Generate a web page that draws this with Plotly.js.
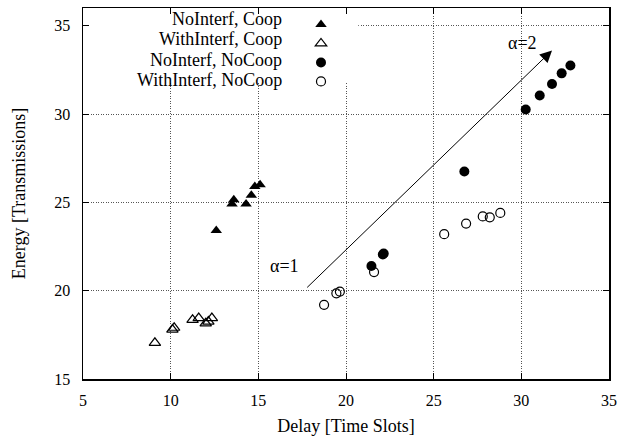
<!DOCTYPE html>
<html>
<head>
<meta charset="utf-8">
<script src="https://cdn.plot.ly/plotly-3.0.1.min.js"></script>
<style>html,body{margin:0;padding:0;background:#fff;}</style>
</head>
<body>
<div id="chart" style="width:627px;height:437px;"></div>
<script>
// Series labels
const seriesNames = ["NoInterf, Coop", "WithInterf, Coop", "NoInterf, NoCoop", "WithInterf, NoCoop"];

// NoInterf, Coop (filled triangles)
const noInterfCoopDelay  = [12.6, 13.5, 13.6, 14.3, 14.6, 14.8, 15.1];
const noInterfCoopEnergy = [23.4, 24.9, 25.15, 24.9, 25.4, 25.9, 26.0];

// WithInterf, Coop (open triangles)
const withInterfCoopDelay  = [9.1, 10.1, 10.2, 11.25, 11.6, 12.0, 12.15, 12.35];
const withInterfCoopEnergy = [17.05, 17.8, 17.9, 18.35, 18.45, 18.15, 18.25, 18.45];

// NoInterf, NoCoop (filled circles)
const noInterfNoCoopDelay  = [21.45, 22.1, 22.15, 26.75, 30.25, 31.05, 31.75, 32.3, 32.8];
const noInterfNoCoopEnergy = [21.4, 22.05, 22.1, 26.75, 30.25, 31.05, 31.7, 32.3, 32.75];

// WithInterf, NoCoop (open circles)
const withInterfNoCoopDelay  = [18.75, 19.45, 19.65, 21.6, 25.6, 26.85, 27.8, 28.2, 28.8];
const withInterfNoCoopEnergy = [19.2, 19.85, 19.95, 21.05, 23.2, 23.8, 24.2, 24.15, 24.4];

// Arrow (alpha from 1 to 2) and its labels
const arrowStart = [17.7, 20.1];
const arrowEnd = [31.75, 33.6];
const alphaLabels = ["α=1", "α=2"];
const alphaLabelX = [16.5, 30.05];
const alphaLabelY = [21.4, 34.0];

// Axis ticks
const xTicks = [5, 10, 15, 20, 25, 30, 35];
const yTicks = [15, 20, 25, 30, 35];

const serif = "'Liberation Serif', 'Times New Roman', Times, serif";

const markerSpecs = [
  {symbol: "triangle-up", size: 10, color: "#000", line: {color: "#000", width: 0}},
  {symbol: "triangle-up-open", size: 10, color: "#000", line: {color: "#000", width: 1.2}},
  {symbol: "circle", size: 10, color: "#000", line: {color: "#000", width: 0}},
  {symbol: "circle-open", size: 9, color: "#000", line: {color: "#000", width: 1.2}}
];
const xs = [noInterfCoopDelay, withInterfCoopDelay, noInterfNoCoopDelay, withInterfNoCoopDelay];
const ys = [noInterfCoopEnergy, withInterfCoopEnergy, noInterfNoCoopEnergy, withInterfNoCoopEnergy];

const traces = seriesNames.map((n, i) => ({
  type: "scatter",
  mode: "markers",
  x: xs[i],
  y: ys[i],
  name: "",
  hovertext: n,
  marker: markerSpecs[i],
  showlegend: true
}));

const legendRowY = [0.9714, 0.9162, 0.8609, 0.8057];
const annotations = seriesNames.map((n, i) => ({
  xref: "paper", yref: "paper",
  x: 0.382, y: legendRowY[i],
  xanchor: "right", yanchor: "middle",
  text: n, showarrow: false,
  font: {family: serif, size: 18, color: "#000"}
}));

annotations.push({
  xref: "x", yref: "y", axref: "x", ayref: "y",
  x: arrowEnd[0], y: arrowEnd[1],
  ax: arrowStart[0], ay: arrowStart[1],
  text: "", showarrow: true,
  arrowhead: 2, arrowsize: 2.4, arrowwidth: 1, arrowcolor: "#000"
});
alphaLabels.forEach((t, i) => annotations.push({
  xref: "x", yref: "y",
  x: alphaLabelX[i], y: alphaLabelY[i],
  text: t, showarrow: false,
  font: {family: serif, size: 18, color: "#000"}
}));

const axisCommon = {
  showline: true, linecolor: "#000", linewidth: 1.5, mirror: "ticks",
  ticks: "inside", ticklen: 6, tickwidth: 1, tickcolor: "#000",
  showgrid: true, gridcolor: "#555", griddash: "1px,1.5px", gridwidth: 1,
  zeroline: false,
  tickfont: {family: serif, size: 16, color: "#000"}
};

const layout = {
  width: 627, height: 437,
  margin: {l: 83, r: 18, t: 8, b: 58},
  paper_bgcolor: "#fff", plot_bgcolor: "#fff",
  font: {family: serif, color: "#000"},
  showlegend: true,
  legend: {
    x: (301 - 83) / 526, y: 0.9948, xanchor: "left", yanchor: "top",
    bgcolor: "rgba(0,0,0,0)", borderwidth: 0,
    font: {family: serif, size: 10},
    itemwidth: 30, tracegroupgap: 0
  },
  xaxis: Object.assign({}, axisCommon, {
    range: [5, 35], tickvals: xTicks,
    ticklabelstandoff: 6,
    title: {text: "Delay [Time Slots]", font: {family: serif, size: 18}, standoff: 11}
  }),
  yaxis: Object.assign({}, axisCommon, {
    range: [15, 36], tickvals: yTicks,
    ticklabelstandoff: 8,
    title: {text: "Energy [Transmissions]", font: {family: serif, size: 18}, standoff: 24}
  }),
  shapes: [{
    type: "rect", xref: "x", yref: "y",
    x0: 5, x1: 20.7, y0: 31.75, y1: 36,
    fillcolor: "#fff", line: {width: 0}, layer: "between"
  }],
  annotations: annotations,
  hovermode: false
};

Plotly.newPlot("chart", traces, layout, {displayModeBar: false, staticPlot: true});
</script>
</body>
</html>
